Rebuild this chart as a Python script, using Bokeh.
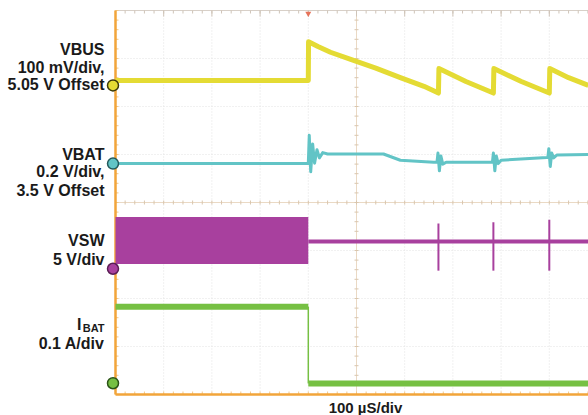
import numpy as np
from bokeh.plotting import figure
from bokeh.models import Range1d, Label
from bokeh.embed import file_html
from bokeh.resources import INLINE

# ---------------- data (time in µs, 100 µs/div; amplitude in screen divisions: 0 = bottom, 8 = top)
vbus_t = [0, 400, 400.5, 420, 446, 488, 540, 591, 640, 670, 671, 727, 784, 785, 842, 900, 901, 940, 981]
vbus_v = [6.54, 6.54, 7.35, 7.25, 7.13, 6.98, 6.80, 6.60, 6.42, 6.28, 6.79, 6.52, 6.28, 6.79, 6.52, 6.28, 6.79, 6.60, 6.44]

vbat_t = [0, 400, 402, 405, 409, 413, 418, 423, 430, 440, 556, 591, 660, 667, 669, 672, 675, 679, 686,
          780, 782, 784, 787, 790, 794, 800, 850, 895, 897, 899, 902, 905, 909, 916, 981]
vbat_v = [4.81, 4.81, 5.40, 4.64, 5.22, 4.82, 5.10, 4.93, 5.04, 5.01, 5.01, 4.88, 4.84, 4.84, 5.03, 4.66, 4.97, 4.80, 4.84,
          4.84, 4.84, 5.03, 4.66, 4.97, 4.81, 4.88, 4.91, 4.94, 4.94, 5.12, 4.75, 5.03, 4.93, 4.99, 5.00]

vsw_band_t = [0, 400]
vsw_band_top = [3.70, 3.70]
vsw_band_bot = [2.72, 2.72]
vsw_t = [400, 981]
vsw_v = [3.19, 3.19]
vsw_spike_t = [670, 784, 900]
vsw_spike_top = [3.56, 3.59, 3.64]
vsw_spike_bot = [2.58, 2.58, 2.58]

ibat_t = [0, 400, 400, 981]
ibat_v = [1.83, 1.83, 0.23, 0.23]

marker_y = [6.44, 4.81, 2.62, 0.235]
trigger_t = [400]

# ---------------- geometry (the frame covers the whole canvas)
PX_US = 0.482      # px per µs
PX_DIV = 48.0      # px per division
W, H = 588, 415

def tx(xs):  # screen x -> time
    return (xs - 115) / PX_US

def dy(ys):  # screen y -> divisions
    return (394 - ys) / PX_DIV

x0, x1 = tx(0), tx(W)
y0, y1 = dy(H), dy(0)
xe = tx(W + 5)

YEL, CYA, MAG, GRN = "#e4db34", "#62c4c6", "#a8409e", "#76c043"
ORANGE = "#f2a53a"

p = figure(width=W, height=H, x_range=Range1d(x0, x1), y_range=Range1d(y0, y1),
           output_backend="svg", toolbar_location=None,
           x_axis_location=None, y_axis_location=None,
           min_border=0, min_border_left=0, min_border_right=0, min_border_top=0, min_border_bottom=0)
p.grid.visible = False
p.outline_line_color = None
p.background_fill_color = "white"
p.border_fill_color = "white"

# ---- graticule
gx = np.arange(100, 1000, 100)
p.segment(x0=gx, y0=0, x1=gx, y1=8, line_color="#e2e2e2", line_dash="1 2", line_width=1)
gy = np.arange(1, 8)
p.segment(x0=0, y0=gy, x1=xe, y1=gy, line_color="#e2e2e2", line_dash="1 2", line_width=1)
# centre lines with minor ticks
p.segment(x0=[0], y0=[4], x1=[xe], y1=[4], line_color="#ead9c4", line_width=1)
p.segment(x0=[500], y0=[0], x1=[500], y1=[8], line_color="#ead9c4", line_width=1)
mt = np.arange(0, 1000, 20)
p.segment(x0=mt, y0=4 - 2 / PX_DIV, x1=mt, y1=4 + 2 / PX_DIV, line_color="#d9c6ae", line_width=1)
md = np.arange(0, 8.01, 0.2)
p.segment(x0=500 - 2 / PX_US, y0=md, x1=500 + 2 / PX_US, y1=md, line_color="#d9c6ae", line_width=1)
# top border with ticks
p.segment(x0=[0], y0=[8], x1=[xe], y1=[8], line_color="#d8d0c8", line_width=1)
p.segment(x0=mt, y0=8, x1=mt, y1=8 - 3 / PX_DIV, line_color="#cfc4b8", line_width=1)
p.segment(x0=gx, y0=8, x1=gx, y1=8 - 6 / PX_DIV, line_color="#cfc4b8", line_width=1)
# bottom / left borders (orange) with ticks
p.segment(x0=mt, y0=0, x1=mt, y1=3 / PX_DIV, line_color="#f3c88a", line_width=1)
p.segment(x0=0, y0=md, x1=3 / PX_US, y1=md, line_color="#f3c88a", line_width=1)
p.segment(x0=[0], y0=[0], x1=[xe], y1=[0], line_color=ORANGE, line_width=2.5)
p.segment(x0=[0], y0=[0], x1=[0], y1=[8], line_color=ORANGE, line_width=2.5)

# ---- traces
p.varea(x=vsw_band_t, y1=vsw_band_bot, y2=vsw_band_top, fill_color=MAG, fill_alpha=1.0)
p.line(vsw_t, vsw_v, line_color=MAG, line_width=4)
p.segment(x0=vsw_spike_t, y0=vsw_spike_bot, x1=vsw_spike_t, y1=vsw_spike_top, line_color=MAG, line_width=2)

p.line(vbus_t, vbus_v, line_color=YEL, line_width=5, line_join="round")
p.line(vbat_t, vbat_v, line_color=CYA, line_width=3, line_join="round")
p.line(ibat_t[:2], ibat_v[:2], line_color=GRN, line_width=6)
p.line(ibat_t[2:], ibat_v[2:], line_color=GRN, line_width=6)
p.line(ibat_t[1:3], ibat_v[1:3], line_color=GRN, line_width=1.5)

# ---- channel markers and trigger
mx = [tx(112.5)] * 4
p.scatter(x=mx, y=marker_y, size=11, fill_color=[YEL, CYA, MAG, GRN],
          line_color=["#3c3a08", "#245a5c", "#5a1e55", "#2c5418"], line_width=1.5)
p.scatter(x=trigger_t, y=[8 - 3 / PX_DIV], marker="inverted_triangle", size=6,
          fill_color="#e6735a", line_color=None)

# ---- labels
FONT = "Liberation Sans"
def lab(text, xs, ys, size="16px", align="right"):
    p.add_layout(Label(x=tx(xs), y=dy(ys), text=text, text_align=align, text_baseline="alphabetic",
                       text_font=FONT, text_font_size=size, text_font_style="bold",
                       text_color="#1a1a1a"))

lab("VBUS", 104, 48.5)
lab("100 mV/div,", 104, 66.5)
lab("5.05 V Offset", 104, 83.5)
lab("VBAT", 104, 153.5)
lab("0.2 V/div,", 104, 170.5)
lab("3.5 V Offset", 104, 189.5)
lab("VSW", 104, 240)
lab("5 V/div", 104, 258.5)
lab("I", 81, 323.5)
lab("BAT", 104, 327.5, size="11px")
lab("0.1 A/div", 104, 343)
lab("100 \u00b5S/div", 365, 407, size="15px", align="center")

open("out.html", "w").write(file_html(p, INLINE))
